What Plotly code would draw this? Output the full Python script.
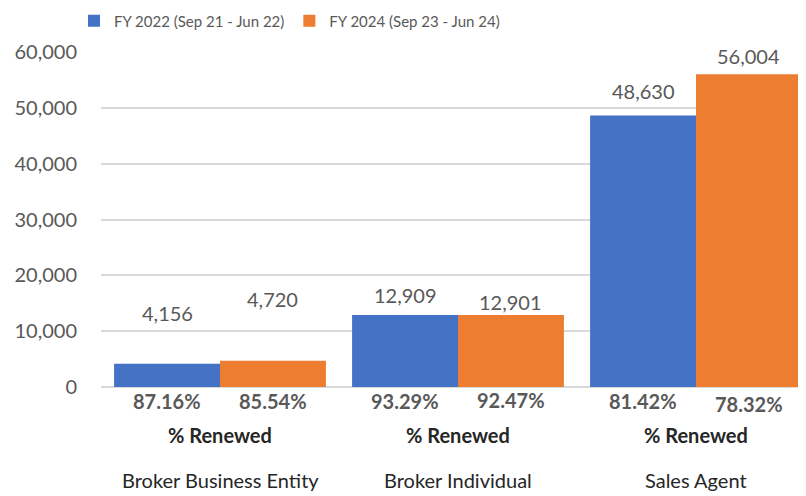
import plotly.graph_objects as go

categories = ["Broker Business Entity", "Broker Individual", "Sales Agent"]
series_names = ["FY 2022 (Sep 21 - Jun 22)", "FY 2024 (Sep 23 - Jun 24)"]
fy2022 = [4156, 12909, 48630]
fy2024 = [4720, 12901, 56004]
pct_2022 = ["87.16%", "93.29%", "81.42%"]
pct_2024 = ["85.54%", "92.47%", "78.32%"]
sub_label = "% Renewed"
y_ticks = [0, 10000, 20000, 30000, 40000, 50000, 60000]

# styling
colors = ["#4472C4", "#ED7D31"]
FONT = "Lato"
GRAY = "#595959"
DARK = "#262626"
BARGAP = 0.11
# manual label offsets (px above bar top) as in the reference
shift_2022 = [51, 20, 24]
shift_2024 = [62, 13, 18]
pct_shift_2022 = [-14, -14, -14]
pct_shift_2024 = [-14, -13, -17]

fig = go.Figure()
for name, vals, col in zip(series_names, [fy2022, fy2024], colors):
    fig.add_trace(go.Bar(x=categories, y=vals, name=name, marker_color=col,
                         marker_line_width=0))

half = (1 - BARGAP) / 4
ann = []
for i, cat in enumerate(categories):
    for vals, pcts, shifts, pshifts, sgn in [
        (fy2022, pct_2022, shift_2022, pct_shift_2022, -1),
        (fy2024, pct_2024, shift_2024, pct_shift_2024, 1),
    ]:
        xpos = i + sgn * half
        ann.append(dict(x=xpos, y=vals[i], xref="x", yref="y", text=f"{vals[i]:,}",
                        showarrow=False, yanchor="middle", yshift=shifts[i],
                        font=dict(family=FONT, size=20, color=GRAY)))
        ann.append(dict(x=xpos, y=0, xref="x", yref="y", text=f"<b>{pcts[i]}</b>",
                        showarrow=False, yanchor="middle", yshift=pshifts[i],
                        font=dict(family=FONT, size=20, color=GRAY)))
    ann.append(dict(x=i, y=0, xref="x", yref="y", text=f"<b>{sub_label}</b>",
                    showarrow=False, yanchor="middle", yshift=-48,
                    font=dict(family=FONT, size=20, color=DARK)))
    ann.append(dict(x=i, y=0, xref="x", yref="y", text=cat,
                    showarrow=False, yanchor="middle", yshift=-93,
                    font=dict(family=FONT, size=20, color=DARK)))

# page has an 8px body margin: figure is 798x488 drawn at (8,8)
fig.update_layout(
    width=798, height=488,
    margin=dict(l=93, r=0, t=44, b=109, pad=0, autoexpand=False),
    barmode="group", bargap=BARGAP, bargroupgap=0,
    plot_bgcolor="white", paper_bgcolor="white",
    font=dict(family=FONT, color=GRAY, size=20),
    legend=dict(orientation="h", x=66 / 798, xref="container", xanchor="left",
                y=1 - 13 / 488, yref="container", yanchor="middle",
                font=dict(family=FONT, size=15, color=GRAY),
                itemsizing="constant", traceorder="normal", itemwidth=30,
                bgcolor="rgba(0,0,0,0)"),
    annotations=ann,
)
fig.update_xaxes(showticklabels=False, showgrid=False, showline=False, zeroline=False,
                 range=[-0.5, -0.5 + 705 / 238])
fig.update_yaxes(range=[0, 60000], tickvals=y_ticks, tickformat=",",
                 showgrid=True, gridcolor="#D9D9D9", gridwidth=1.5,
                 zeroline=True, zerolinecolor="#D9D9D9", zerolinewidth=1.5,
                 tickfont=dict(family=FONT, size=20, color=GRAY),
                 ticks="", ticklabelstandoff=23)
fig.write_html("out.html")
